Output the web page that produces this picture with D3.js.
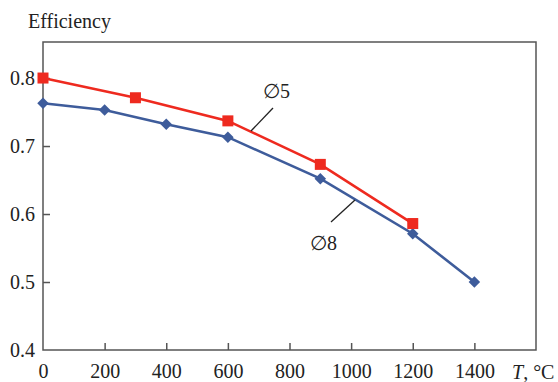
<!DOCTYPE html>
<html>
<head>
<meta charset="utf-8">
<script src="https://cdn.jsdelivr.net/npm/d3@7"></script>
<style>
body { margin: 0; background: #fff; }
</style>
</head>
<body>
<div id="chart"></div>
<script>
var temps5 = [0, 300, 600, 900, 1200];
var eff5 = [0.80, 0.771, 0.737, 0.673, 0.586];
var temps8 = [0, 200, 400, 600, 900, 1200, 1400];
var eff8 = [0.763, 0.753, 0.732, 0.713, 0.652, 0.571, 0.50];
var xTicks = [0, 200, 400, 600, 800, 1000, 1200, 1400];
var yTicks = [0.4, 0.5, 0.6, 0.7, 0.8];

var serif = "Liberation Serif";

var margin = { top: 42, right: 22, bottom: 32, left: 43 },
    width = 558 - margin.left - margin.right,
    height = 382 - margin.top - margin.bottom;

var svg = d3.select("#chart")
    .append("svg")
    .attr("width", 558)
    .attr("height", 382);

var chart = svg.append("g")
    .attr("transform", "translate(" + margin.left + "," + margin.top + ")");

var xScale = d3.scaleLinear().domain([0, 1600]).range([0, width]);
var yScale = d3.scaleLinear().domain([0.4, 0.853]).range([height, 0]);

// frame
chart.append("rect")
    .attr("width", width)
    .attr("height", height)
    .attr("fill", "none")
    .attr("stroke", "#555")
    .attr("stroke-width", 1.5);

// x axis
var xAxis = d3.axisBottom(xScale)
    .tickValues(xTicks)
    .tickSizeInner(-7)
    .tickSizeOuter(0)
    .tickPadding(14)
    .tickFormat(d3.format("d"));
var gx = chart.append("g")
    .attr("transform", "translate(0," + height + ")")
    .call(xAxis)
    .attr("font-family", serif)
    .attr("font-size", 20);
gx.select(".domain").remove();
gx.selectAll(".tick line").attr("stroke", "#555").attr("stroke-width", 1.5)
    .filter(function (d) { return d === 0; }).remove();
gx.selectAll(".tick text").attr("fill", "#222").attr("font-family", serif);

// y axis
var yAxis = d3.axisLeft(yScale)
    .tickValues(yTicks)
    .tickSizeInner(-7)
    .tickSizeOuter(0)
    .tickPadding(8)
    .tickFormat(d3.format(".1f"));
var gy = chart.append("g")
    .call(yAxis)
    .attr("font-family", serif)
    .attr("font-size", 20);
gy.select(".domain").remove();
gy.selectAll(".tick line").attr("stroke", "#555").attr("stroke-width", 1.5)
    .filter(function (d) { return d === 0.4; }).remove();
gy.selectAll(".tick text").attr("fill", "#222").attr("font-family", serif);

// axis titles
svg.append("text")
    .attr("x", 28)
    .attr("y", 28)
    .attr("font-family", serif)
    .attr("font-size", 20)
    .attr("fill", "#222")
    .text("Efficiency");

var tLabel = svg.append("text")
    .attr("x", 512)
    .attr("y", 379)
    .attr("font-family", serif)
    .attr("font-size", 20)
    .attr("fill", "#222");
tLabel.append("tspan").attr("font-style", "italic").text("T");
tLabel.append("tspan").text(", °C");

var line = d3.line()
    .x(function (d) { return xScale(d.t); })
    .y(function (d) { return yScale(d.e); });

var data5 = temps5.map(function (t, i) { return { t: t, e: eff5[i] }; });
var data8 = temps8.map(function (t, i) { return { t: t, e: eff8[i] }; });

var blue = "#3e5c9b", red = "#ee2a1f";

chart.append("path")
    .datum(data8)
    .attr("d", line)
    .attr("fill", "none")
    .attr("stroke", blue)
    .attr("stroke-width", 2.6);

chart.append("path")
    .datum(data5)
    .attr("d", line)
    .attr("fill", "none")
    .attr("stroke", red)
    .attr("stroke-width", 2.6);

chart.selectAll(".dia")
    .data(data8)
    .enter()
    .append("path")
    .attr("class", "dia")
    .attr("d", d3.symbol().type(d3.symbolDiamond2).size(85))
    .attr("transform", function (d) {
        return "translate(" + xScale(d.t) + "," + yScale(d.e) + ")";
    })
    .attr("fill", blue);

chart.selectAll(".sq")
    .data(data5)
    .enter()
    .append("rect")
    .attr("class", "sq")
    .attr("x", function (d) { return xScale(d.t) - 5.5; })
    .attr("y", function (d) { return yScale(d.e) - 5.5; })
    .attr("width", 11)
    .attr("height", 11)
    .attr("fill", red);

// series labels with leader lines
svg.append("line")
    .attr("x1", 251).attr("y1", 131)
    .attr("x2", 273).attr("y2", 108)
    .attr("stroke", "#222").attr("stroke-width", 1.3);
svg.append("text")
    .attr("x", 263)
    .attr("y", 98)
    .attr("font-family", serif)
    .attr("font-size", 20)
    .attr("fill", "#222")
    .text("\u22055");

svg.append("line")
    .attr("x1", 331).attr("y1", 222)
    .attr("x2", 355).attr("y2", 200)
    .attr("stroke", "#222").attr("stroke-width", 1.3);
svg.append("text")
    .attr("x", 310)
    .attr("y", 250)
    .attr("font-family", serif)
    .attr("font-size", 20)
    .attr("fill", "#222")
    .text("\u22058");
</script>
</body>
</html>
